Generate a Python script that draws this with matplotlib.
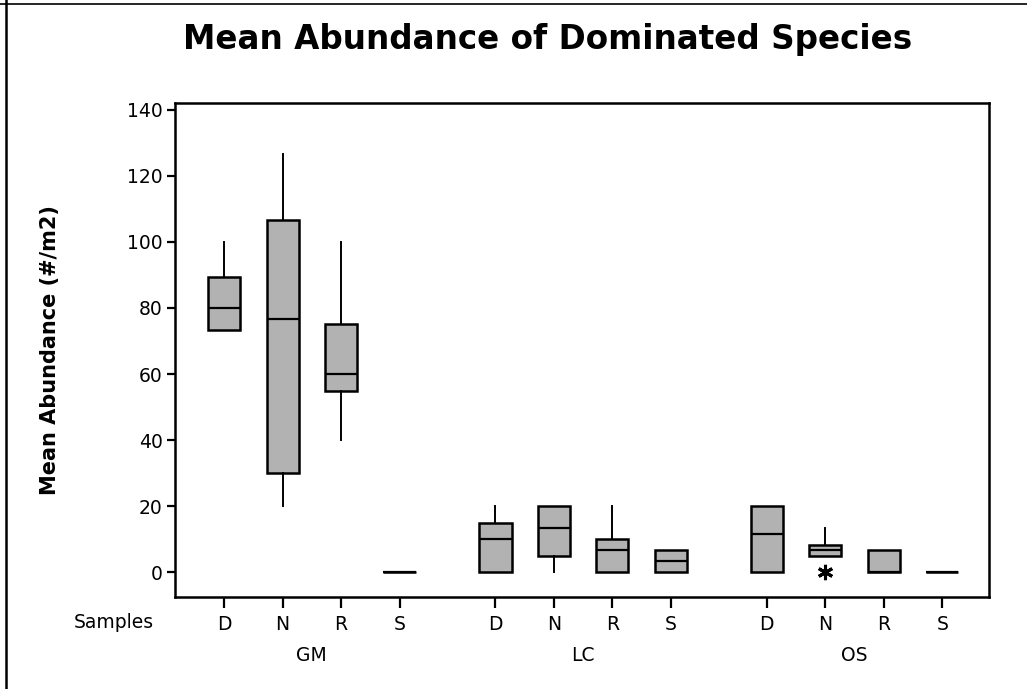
import matplotlib
matplotlib.use("Agg")
import matplotlib.pyplot as plt
import numpy as np

plt.rcParams['font.family'] = ['DejaVu Sans']

# sites and sample types
groups = ['GM', 'LC', 'OS']
samples = ['D', 'N', 'R', 'S']

# box summaries, ordered GM D..S, LC D..S, OS D..S
whislo = [73.3, 20.0, 40.0, 0.0,   0.0, 0.0, 0.0, 0.0,    0.0, 5.0, 0.0, 0.0]
q1     = [73.3, 30.0, 55.0, 0.0,   0.0, 5.0, 0.0, 0.0,    0.0, 5.0, 0.0, 0.0]
med    = [80.0, 76.7, 60.0, 0.0,   10.0, 13.3, 6.7, 3.3,  11.7, 6.7, 0.0, 0.0]
q3     = [89.3, 106.7, 75.0, 0.0,  15.0, 20.0, 10.0, 6.7, 20.0, 8.3, 6.7, 0.0]
whishi = [100.0, 126.7, 100.0, 0.0, 20.0, 20.0, 20.0, 6.7, 20.0, 13.3, 6.7, 0.0]
fliers = [[], [], [], [],  [], [], [], [],  [], [0.0], [], []]

gap = 4.64  # spacing between site groups, in box slots
positions = [g * gap + i for g in range(len(groups)) for i in range(len(samples))]

stats = []
for k in range(len(positions)):
    stats.append(dict(whislo=whislo[k], q1=q1[k], med=med[k], q3=q3[k],
                      whishi=whishi[k], fliers=fliers[k]))

fig = plt.figure(figsize=(10.27, 6.89), dpi=100)
ax = fig.add_axes([0.1704, 0.1331, 0.963 - 0.1704, 0.8512 - 0.1331])

ax.bxp(stats, positions=positions, widths=0.55, patch_artist=True,
       showcaps=False,
       boxprops=dict(facecolor='#b2b2b2', edgecolor='black', linewidth=1.8),
       medianprops=dict(color='black', linewidth=1.6),
       whiskerprops=dict(color='black', linewidth=1.4),
       flierprops=dict(marker=(6, 2, 0), markersize=11, markeredgecolor='black',
                       markeredgewidth=2.2, linestyle='none'))

ax.set_xlim(-0.84, 13.08)
ax.set_ylim(-7.6, 142.2)
ax.set_yticks(np.arange(0, 141, 20))
ax.set_xticks(positions)
ax.set_xticklabels(samples * len(groups))
for s in ax.spines.values():
    s.set_linewidth(1.8)
ax.tick_params(axis='both', direction='out', width=1.6, labelsize=13.5,
               colors='black')
ax.tick_params(axis='y', length=6, pad=3)
ax.tick_params(axis='x', length=8, pad=5)

# site labels under each group of boxes
for g, name in enumerate(groups):
    xc = np.mean(positions[g * 4:(g + 1) * 4])
    ax.text(xc, -0.118, name, transform=ax.get_xaxis_transform(),
            ha='center', va='center', fontsize=13.5)
fig.text(154 / 1027, 1 - 623 / 689, 'Samples', ha='right', va='center',
         fontsize=13.5)

ax.set_ylabel('Mean Abundance (#/m2)', fontsize=15, fontweight='bold')
ax.yaxis.set_label_coords(-0.141, 0.5)
fig.text(548 / 1027, 1 - 40 / 689, 'Mean Abundance of Dominated Species',
         ha='center', va='center', fontsize=23.5, fontweight='bold')

# page frame lines
fig.add_artist(plt.Line2D([6 / 1027, 6 / 1027], [0, 1], color='black',
                          linewidth=1.8, transform=fig.transFigure))
fig.add_artist(plt.Line2D([0, 1], [1 - 4 / 689, 1 - 4 / 689], color='black',
                          linewidth=1.2, transform=fig.transFigure))

fig.savefig('out.png', dpi=100)
